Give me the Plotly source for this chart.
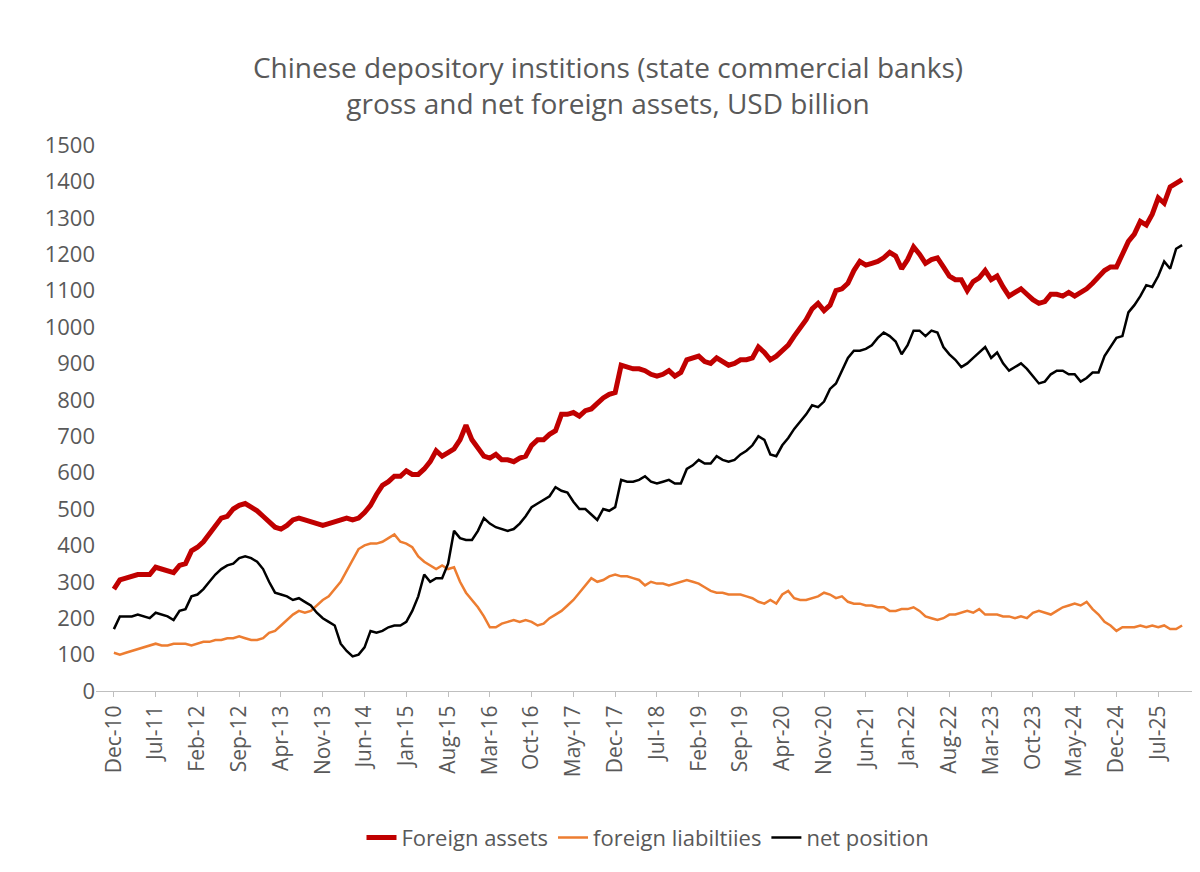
import plotly.graph_objects as go

months = ["Jan", "Feb", "Mar", "Apr", "May", "Jun", "Jul", "Aug", "Sep", "Oct", "Nov", "Dec"]
dates = ["Dec-10"] + [f"{m}-{y:02d}" for y in range(11, 26) for m in months][:179]

foreign_assets = [
    280,
    305, 310, 315, 320, 320, 320, 340, 335, 330, 325, 345, 350,
    385, 395, 410, 430, 455, 475, 480, 500, 510, 515, 505, 495,
    480, 465, 450, 445, 455, 470, 475, 470, 465, 460, 455, 460,
    465, 470, 475, 470, 475, 490, 510, 540, 565, 575, 590, 590,
    605, 595, 595, 610, 630, 660, 645, 655, 665, 690, 730, 690,
    670, 645, 640, 650, 635, 635, 630, 640, 645, 675, 690, 690,
    705, 715, 760, 760, 765, 755, 770, 775, 790, 805, 815, 820,
    895, 890, 885, 885, 880, 870, 865, 870, 880, 865, 875, 910,
    915, 920, 905, 900, 915, 905, 895, 900, 910, 910, 915, 945,
    930, 910, 920, 935, 950, 975, 995, 1020, 1050, 1065, 1045, 1060,
    1100, 1105, 1120, 1155, 1180, 1170, 1175, 1180, 1190, 1205, 1195, 1160,
    1185, 1220, 1200, 1175, 1185, 1190, 1165, 1140, 1130, 1130, 1100, 1125,
    1135, 1155, 1130, 1140, 1110, 1085, 1095, 1105, 1090, 1075, 1065, 1070,
    1090, 1090, 1085, 1095, 1085, 1095, 1105, 1120, 1140, 1155, 1165, 1165,
    1200, 1235, 1255, 1290, 1280, 1310, 1355, 1340, 1385, 1395, 1405,
]

foreign_liabilities = [
    105,
    100, 105, 110, 115, 120, 125, 130, 125, 125, 130, 130, 130,
    125, 130, 135, 135, 140, 140, 145, 145, 150, 145, 140, 140,
    145, 160, 165, 180, 195, 210, 220, 215, 220, 235, 250, 260,
    280, 300, 330, 360, 390, 400, 405, 405, 410, 420, 430, 410,
    405, 395, 370, 355, 345, 335, 345, 335, 340, 300, 270, 250,
    230, 205, 175, 175, 185, 190, 195, 190, 195, 190, 180, 185,
    200, 210, 220, 235, 250, 270, 290, 310, 300, 305, 315, 320,
    315, 315, 310, 305, 290, 300, 295, 295, 290, 295, 300, 305,
    300, 295, 285, 275, 270, 270, 265, 265, 265, 260, 255, 245,
    240, 250, 240, 265, 275, 255, 250, 250, 255, 260, 270, 265,
    255, 260, 245, 240, 240, 235, 235, 230, 230, 220, 220, 225,
    225, 230, 220, 205, 200, 195, 200, 210, 210, 215, 220, 215,
    225, 210, 210, 210, 205, 205, 200, 205, 200, 215, 220, 215,
    210, 220, 230, 235, 240, 235, 245, 225, 210, 190, 180, 165,
    175, 175, 175, 180, 175, 180, 175, 180, 170, 170, 180,
]

net_position = [
    170,
    205, 205, 205, 210, 205, 200, 215, 210, 205, 195, 220, 225,
    260, 265, 280, 300, 320, 335, 345, 350, 365, 370, 365, 355,
    335, 300, 270, 265, 260, 250, 255, 245, 235, 215, 200, 190,
    180, 130, 110, 95, 100, 120, 165, 160, 165, 175, 180, 180,
    190, 220, 260, 320, 300, 310, 310, 350, 440, 420, 415, 415,
    440, 475, 460, 450, 445, 440, 445, 460, 480, 505, 515, 525,
    535, 560, 550, 545, 520, 500, 500, 485, 470, 500, 495, 505,
    580, 575, 575, 580, 590, 575, 570, 575, 580, 570, 570, 610,
    620, 635, 625, 625, 645, 635, 630, 635, 650, 660, 675, 700,
    690, 650, 645, 675, 695, 720, 740, 760, 785, 780, 795, 830,
    845, 880, 915, 935, 935, 940, 950, 970, 985, 975, 960, 925,
    950, 990, 990, 975, 990, 985, 945, 925, 910, 890, 900, 915,
    930, 945, 915, 930, 900, 880, 890, 900, 885, 865, 845, 850,
    870, 880, 880, 870, 870, 850, 860, 875, 875, 920, 945, 970,
    975, 1040, 1060, 1085, 1115, 1110, 1140, 1180, 1160, 1215, 1225,
]

tick_labels = dates[::7]

fig = go.Figure()
fig.add_trace(go.Scatter(x=dates, y=foreign_assets, name="Foreign assets", mode="lines",
                         line=dict(color="#C00000", width=5)))
fig.add_trace(go.Scatter(x=dates, y=foreign_liabilities, name="foreign liabiltiies", mode="lines",
                         line=dict(color="#ED7D31", width=2.5)))
fig.add_trace(go.Scatter(x=dates, y=net_position, name="net position", mode="lines",
                         line=dict(color="black", width=2.5)))

fig.update_layout(
    width=1200, height=872,
    paper_bgcolor="white", plot_bgcolor="white",
    font=dict(family="Open Sans, Liberation Sans, sans-serif", color="#595959", size=21),
    title=dict(text="Chinese depository institions (state commercial banks)<br>gross and net foreign assets, USD billion",
               x=0.5, xanchor="center", y=0.92, yanchor="bottom", font=dict(size=28)),
    margin=dict(l=88, r=8, t=137, b=189),
    showlegend=True,
    legend=dict(orientation="h", x=0.5, xanchor="center", y=-0.23, yanchor="top",
                font=dict(size=22, color="#595959")),
)
fig.update_xaxes(type="category", tickmode="array", tickvals=tick_labels, ticktext=tick_labels,
                 tickangle=-90, showgrid=False, showline=True, linecolor="#bfbfbf",
                 ticks="outside", ticklen=5, tickcolor="#bfbfbf", range=[-3, 182])
fig.update_yaxes(range=[0, 1500], dtick=100, showgrid=False, zeroline=False, showline=False,
                 tickfont=dict(size=22))

fig.write_html("out.html")
